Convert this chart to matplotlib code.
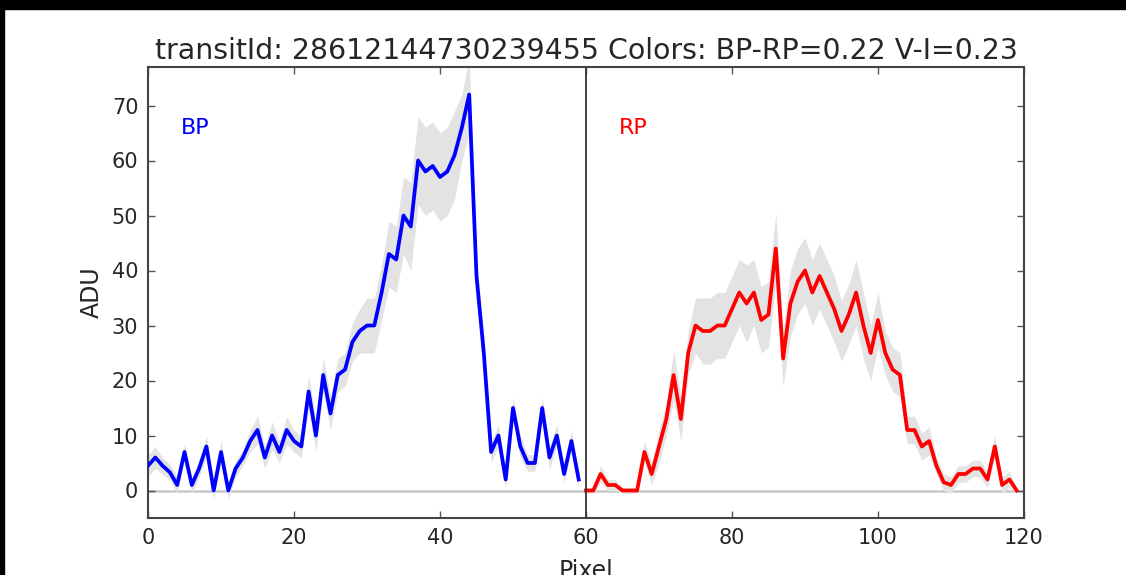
import matplotlib
matplotlib.use("Agg")
import matplotlib.pyplot as plt
from matplotlib.patches import Rectangle
import numpy as np

# BP spectrum (pixels 0-59) and RP spectrum (pixels 60-119)
bpFlux = [4.5, 6, 4.5, 3.3, 1, 7, 1, 4, 8, 0,
          7, 0, 4, 6, 9, 11, 6, 10, 7, 11,
          9, 8, 18, 10, 21, 14, 21, 22, 27, 29,
          30, 30, 36, 43, 42, 50, 48, 60, 58, 59,
          57, 58, 61, 66, 72, 39, 25, 7, 10, 2,
          15, 8, 5, 5, 15, 6, 10, 3, 9, 2]
bpErr = [2, 2, 1.5, 1.5, 1.5, 1.5, 1.5, 1.5, 2, 1.5,
         2, 1.5, 1.5, 1.5, 2, 2.5, 2, 2.5, 2, 2.5,
         2, 2, 3, 3, 3, 3, 3, 3, 3.5, 4,
         5, 5, 5, 6, 6, 7, 8, 8, 8, 8,
         8, 8, 8, 6, 7, 3, 3, 2, 2, 1.5,
         2, 2, 1.5, 1.5, 2, 2, 2, 1.5, 2, 1.5]
rpFlux = [0, 0, 3, 1, 1, 0, 0, 0, 7, 3,
          8, 13, 21, 13, 25, 30, 29, 29, 30, 30,
          33, 36, 34, 36, 31, 32, 44, 24, 34, 38,
          40, 36, 39, 36, 33, 29, 32, 36, 30, 25,
          31, 25, 22, 21, 11, 11, 8, 9, 4.5, 1.5,
          1, 3, 3, 4, 4, 2, 8, 1, 2, 0]
rpErr = [0.5, 0.5, 1.5, 1, 1, 0.5, 0.5, 0.5, 2, 2,
         3, 3, 4.5, 4, 4, 5, 6, 6, 6, 6,
         6, 6, 7, 6, 6, 6, 6.5, 5, 6, 6,
         6, 6, 6, 6, 6, 5.5, 5.5, 6, 6, 5,
         5, 4, 4, 4, 2.5, 2.5, 2.5, 2.5, 1.5, 1.5,
         1.5, 1.5, 1.5, 1.5, 1.5, 1.5, 2, 1.5, 1.5, 0.5]

transitId = "28612144730239455"
bpRp = 0.22
vI = 0.23

bpPix = np.arange(0, 60)
rpPix = np.arange(60, 120)
bpFlux = np.array(bpFlux)
bpErr = np.array(bpErr)
rpFlux = np.array(rpFlux)
rpErr = np.array(rpErr)

textColor = "#262626"
plt.rcParams["font.family"] = "DejaVu Sans"

fig = plt.figure(figsize=(11.26, 5.75), dpi=100)
ax = fig.add_axes([148 / 1126, 1 - 518 / 575, 876 / 1126, 451 / 575])

ax.axhline(0, color="#c8c8c8", lw=1.8, zorder=1)
ax.fill_between(bpPix, bpFlux - bpErr, bpFlux + bpErr, color="#e3e3e3", lw=0, zorder=2)
ax.fill_between(rpPix, rpFlux - rpErr, rpFlux + rpErr, color="#e3e3e3", lw=0, zorder=2)
ax.plot(bpPix, bpFlux, color="#0000ff", lw=2.7, zorder=3)
ax.plot(rpPix, rpFlux, color="#ff0000", lw=2.7, zorder=3)
ax.axvline(60, color="#333333", lw=1.3, zorder=4)

ax.text(4.5, 66, "BP", color="#0000ff", fontsize=16, va="center", ha="left")
ax.text(64.5, 66, "RP", color="#ff0000", fontsize=16, va="center", ha="left")

ax.set_xlim(0, 120)
ax.set_ylim(-5, 77)
ax.set_xticks(np.arange(0, 121, 20))
ax.set_yticks(np.arange(0, 71, 10))
ax.tick_params(direction="in", length=5, width=1, color="#555555",
               top=True, right=True, labelsize=15, labelcolor=textColor, pad=7)
for s in ax.spines.values():
    s.set_color("#444444")
    s.set_linewidth(1.5)

ax.set_xlabel("Pixel", fontsize=17, color=textColor, labelpad=8)
ax.set_ylabel("ADU", fontsize=17, color=textColor, labelpad=6)
ax.set_title(f"transitId: {transitId} Colors: BP-RP={bpRp:.2f} V-I={vI:.2f}",
             fontsize=20.4, color=textColor, pad=6)

# dark strips of the original screenshot
fig.patches.append(Rectangle((0, 1 - 9 / 575), 1, 9 / 575, transform=fig.transFigure,
                             color="black", zorder=10))
fig.patches.append(Rectangle((0, 0), 4 / 1126, 1, transform=fig.transFigure,
                             color="black", zorder=10))

fig.savefig("out.png", dpi=100)
